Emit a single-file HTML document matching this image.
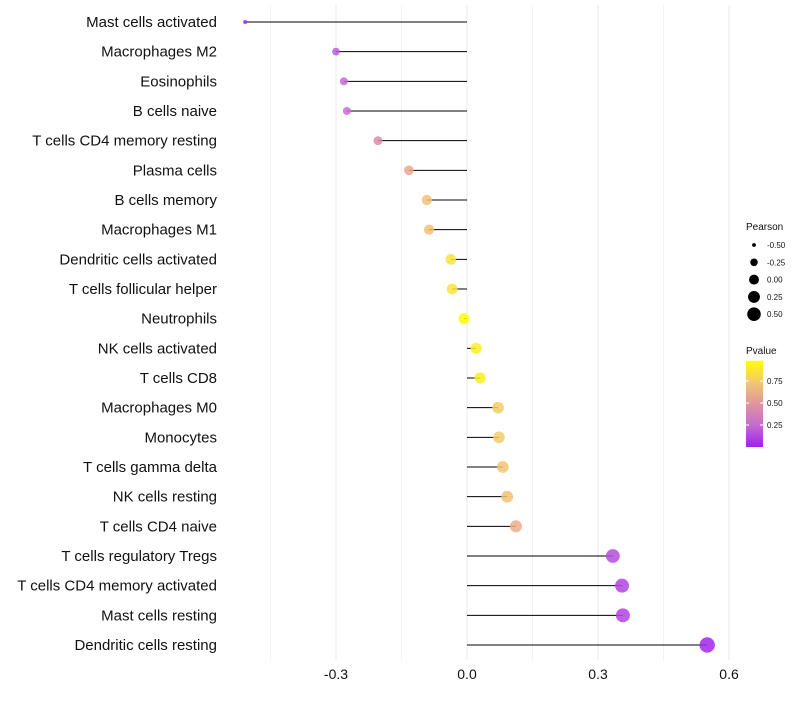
<!DOCTYPE html>
<html><head><meta charset="utf-8"><style>
body{margin:0;background:#fff;font-family:"Liberation Sans",sans-serif;}
</style></head><body>
<svg id="chart" width="800" height="700" xmlns="http://www.w3.org/2000/svg" font-family="Liberation Sans, sans-serif"></svg>
<script>
const categories=["Mast cells activated","Macrophages M2","Eosinophils","B cells naive","T cells CD4 memory resting","Plasma cells","B cells memory","Macrophages M1","Dendritic cells activated","T cells follicular helper","Neutrophils","NK cells activated","T cells CD8","Macrophages M0","Monocytes","T cells gamma delta","NK cells resting","T cells CD4 naive","T cells regulatory  Tregs ","T cells CD4 memory activated","Mast cells resting","Dendritic cells resting"];
const pearson=[-0.508,-0.30,-0.282,-0.275,-0.204,-0.133,-0.092,-0.087,-0.037,-0.034,-0.007,0.021,0.030,0.071,0.073,0.082,0.092,0.112,0.334,0.355,0.357,0.55];
const pvalue=[0.02,0.2,0.25,0.28,0.45,0.6,0.72,0.72,0.88,0.88,0.99,0.93,0.92,0.77,0.77,0.74,0.72,0.63,0.15,0.12,0.12,0.02];
const xTicks=[-0.3,0,0.3,0.6];
const xTickLabels=["-0.3","0.0","0.3","0.6"];
const sizeLegend=[-0.5,-0.25,0,0.25,0.5];
const sizeLegendLabels=["-0.50","-0.25","0.00","0.25","0.50"];
const pLegendTicks=[0.25,0.5,0.75];

const svg=document.getElementById('chart');
const NS="http://www.w3.org/2000/svg";
function el(t,a,p){const e=document.createElementNS(NS,t);for(const k in a)e.setAttribute(k,a[k]);(p||svg).appendChild(e);return e;}
const x=v=>467+v*436.7;
const y=i=>22+i*(623/21);
const r=v=>Math.sqrt(4+52*Math.max(0,v+0.51));
const stops=[[0,[160,32,240]],[0.25,[198,106,210]],[0.5,[224,148,160]],[0.75,[245,198,112]],[1,[255,255,0]]];
function col(p){for(let i=0;i<stops.length-1;i++){const a=stops[i],b=stops[i+1];if(p<=b[0]){const t=(p-a[0])/(b[0]-a[0]);return 'rgb('+a[1].map((c,j)=>Math.round(c+(b[1][j]-c)*t)).join(',')+')';}}return 'rgb(255,255,0)';}

for(let g=-0.45;g<=0.61;g+=0.15){
  const l=el('line',{x1:x(g),x2:x(g),y1:5,y2:660,stroke:'#ebebeb','stroke-width':Math.abs(Math.round(g/0.15))%2===0?1.1:0.6});
  
  
}
xTicks.forEach((v,i)=>{
  const t=el('text',{x:x(v),y:679,'text-anchor':'middle','font-size':14,fill:'#111'});t.textContent=xTickLabels[i];
  
  
});
categories.forEach((c,i)=>{
  const t=el('text',{x:217,y:y(i)+5,'text-anchor':'end','font-size':15,fill:'#111','xml:space':'preserve'});t.textContent=c;
  
  
  const l=el('line',{x1:x(0),x2:x(pearson[i]),y1:y(i),y2:y(i),stroke:'#000','stroke-width':1});
  
  
  const d=el('circle',{cx:x(pearson[i]),cy:y(i),r:r(pearson[i]),fill:col(pvalue[i]),'fill-opacity':0.85});
  
  
});
const lt=el('text',{x:746,y:230,'font-size':10,fill:'#111'});lt.textContent='Pearson';


sizeLegend.forEach((v,i)=>{
  const cy=245+i*17.3;
  const c=el('circle',{cx:754,cy:cy,r:r(v)*0.9,fill:'#000'});
  
  
  const t=el('text',{x:767,y:cy+3,'font-size':8,fill:'#111'});t.textContent=sizeLegendLabels[i];
  
  
});
const pt=el('text',{x:746,y:354,'font-size':10,fill:'#111'});pt.textContent='Pvalue';


const defs=el('defs',{});
const lg=el('linearGradient',{id:'pg',x1:0,y1:1,x2:0,y2:0},defs);
stops.forEach(s=>el('stop',{offset:s[0],'stop-color':col(s[0])},lg));
const py=v=>447-v*88;
const bar=el('rect',{x:746,y:py(0.98),width:17,height:py(0)-py(0.98),fill:'url(#pg)'});


pLegendTicks.forEach(v=>{
  el('line',{x1:746,x2:749,y1:py(v),y2:py(v),stroke:'#fff'});
  el('line',{x1:760,x2:763,y1:py(v),y2:py(v),stroke:'#fff'});
  const t=el('text',{x:767,y:py(v)+3,'font-size':8,fill:'#111'});t.textContent=v.toFixed(2);
  
  
});
</script>
</body></html>
